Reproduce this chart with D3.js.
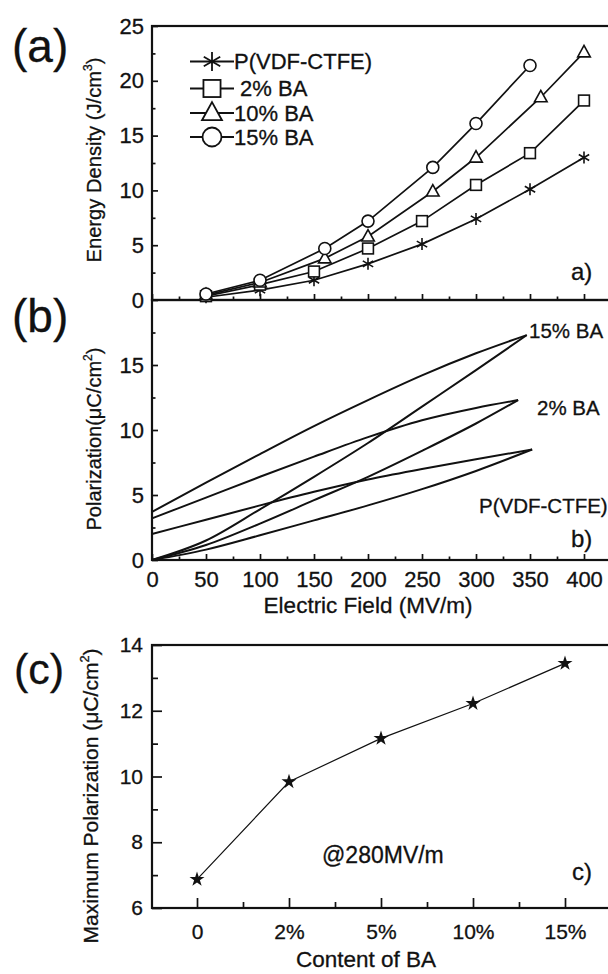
<!DOCTYPE html>
<html>
<head>
<meta charset="utf-8">
<script src="https://cdn.jsdelivr.net/npm/d3@7"></script>
<style>
  html, body { margin: 0; padding: 0; background: #fff; }
  svg { display: block; font-family: "Liberation Sans", Arial, sans-serif; }
  text { fill: #111; stroke: #111; stroke-width: 0.3px; }
</style>
</head>
<body>
<svg id="fig" width="608" height="974"></svg>
<script>
// ---------- (a) energy density vs. field ----------
const fieldAst = [50, 100, 150, 200, 250, 300, 350, 400];
const energyAst = [0.25, 0.9, 1.8, 3.3, 5.1, 7.4, 10.1, 13.0];
const fieldSq = [50, 100, 150, 200, 250, 300, 350, 400];
const energySq = [0.35, 1.4, 2.6, 4.7, 7.2, 10.5, 13.4, 18.2];
const fieldTri = [50, 100, 160, 200, 260, 300, 360, 400];
const energyTri = [0.45, 1.6, 3.8, 5.8, 9.9, 13.0, 18.5, 22.6];
const fieldCir = [50, 100, 160, 200, 260, 300, 350];
const energyCir = [0.55, 1.8, 4.7, 7.2, 12.1, 16.1, 21.4];
const legendLabels = ["P(VDF-CTFE)", " 2% BA", "10% BA", "15% BA"];
const energyTicks = [0, 5, 10, 15, 20, 25];
const fieldTicks = [0, 50, 100, 150, 200, 250, 300, 350, 400];

// ---------- (b) D-E loops: charge (lower) and discharge (upper) branches ----------
const loopField15 = [0, 50, 100, 150, 200, 250, 300, 347];
const loopPol15Lower = [0, 1.5, 3.9, 6.4, 9.0, 11.8, 14.6, 17.3];
const loopPol15Upper = [3.7, 5.95, 8.15, 10.3, 12.3, 14.2, 15.9, 17.3];
const loopField2 = [0, 50, 100, 150, 200, 250, 300, 339];
const loopPol2Lower = [0, 1.15, 2.8, 4.6, 6.4, 8.4, 10.5, 12.3];
const loopPol2Upper = [3.2, 4.8, 6.4, 7.95, 9.45, 10.75, 11.7, 12.3];
const loopField0 = [0, 50, 100, 150, 200, 250, 300, 352];
const loopPol0Lower = [0, 0.8, 1.9, 3.05, 4.2, 5.45, 6.85, 8.5];
const loopPol0Upper = [2.0, 3.1, 4.2, 5.25, 6.2, 7.0, 7.75, 8.5];
const loopLabels = ["15% BA", "2% BA", "P(VDF-CTFE)"];
const polTicks = [0, 5, 10, 15];

// ---------- (c) maximum polarization vs. BA content ----------
const baContent = ["0", "2%", "5%", "10%", "15%"];
const maxPol = [6.87, 9.84, 11.16, 12.22, 13.44];
const maxPolTicks = [6, 8, 10, 12, 14];

const svg = d3.select("#fig");
const zip = (xs, ys) => xs.map((x, i) => [x, ys[i]]);

// scales
const xE = d3.scaleLinear().domain([0, 430]).range([152, 616.4]);
const yA = d3.scaleLinear().domain([0, 25]).range([300, 26]);
const yB = d3.scaleLinear().domain([0, 20]).range([560, 300]);
const xC = d3.scaleLinear().domain([-0.5, 4.5]).range([151, 611]);
const yC = d3.scaleLinear().domain([6, 14]).range([908, 645]);

function styleAxis(g, size) {
  g.select(".domain").remove();
  g.selectAll(".tick line").attr("stroke", "#111").attr("stroke-width", 1.7);
  g.selectAll(".tick text").attr("font-size", size).attr("fill", "#111")
    .attr("font-family", "Liberation Sans, Arial, sans-serif");
}
function frame(x0, y0, x1, y1) {
  svg.append("rect").attr("x", x0).attr("y", y0).attr("width", x1 - x0).attr("height", y1 - y0)
    .attr("fill", "none").attr("stroke", "#111").attr("stroke-width", 2.2);
}
const range = (a, b, s) => d3.range(a, b + 1e-9, s);

// ---------- axes for (a) and (b) ----------
svg.append("g").attr("transform", "translate(0,300)")
  .call(d3.axisBottom(xE).tickValues(fieldTicks).tickSize(-6).tickSizeOuter(0).tickFormat(""))
  .call(g => styleAxis(g, 22));
svg.append("g").attr("transform", "translate(0,300)")
  .call(d3.axisBottom(xE).tickValues(range(25, 425, 50)).tickSize(-3.5).tickSizeOuter(0).tickFormat(""))
  .call(g => styleAxis(g, 22));
svg.append("g").attr("transform", "translate(152,0)")
  .call(d3.axisLeft(yA).tickValues(energyTicks).tickSize(-6).tickSizeOuter(0).tickPadding(8).tickFormat(d3.format("d")))
  .call(g => styleAxis(g, 22));
svg.append("g").attr("transform", "translate(152,0)")
  .call(d3.axisLeft(yA).tickValues(range(2.5, 22.5, 5)).tickSize(-3.5).tickSizeOuter(0).tickFormat(""))
  .call(g => styleAxis(g, 22));
svg.append("g").attr("transform", "translate(0,560)")
  .call(d3.axisBottom(xE).tickValues(fieldTicks).tickSize(-6).tickSizeOuter(0).tickPadding(11).tickFormat(d3.format("d")))
  .call(g => styleAxis(g, 22));
svg.append("g").attr("transform", "translate(0,560)")
  .call(d3.axisBottom(xE).tickValues(range(25, 425, 50)).tickSize(-3.5).tickSizeOuter(0).tickFormat(""))
  .call(g => styleAxis(g, 22));
svg.append("g").attr("transform", "translate(152,0)")
  .call(d3.axisLeft(yB).tickValues(polTicks).tickSize(-6).tickSizeOuter(0).tickPadding(8).tickFormat(d3.format("d")))
  .call(g => styleAxis(g, 22));
svg.append("g").attr("transform", "translate(152,0)")
  .call(d3.axisLeft(yB).tickValues(range(2.5, 17.5, 5)).tickSize(-3.5).tickSizeOuter(0).tickFormat(""))
  .call(g => styleAxis(g, 22));

frame(152, 26, 616.4, 300);
frame(152, 300, 616.4, 560);

// ---------- (a) series ----------
const lineA = d3.line().x(d => xE(d[0])).y(d => yA(d[1]));
const seriesA = [
  { pts: zip(fieldAst, energyAst), mark: "ast" },
  { pts: zip(fieldSq, energySq), mark: "sq" },
  { pts: zip(fieldTri, energyTri), mark: "tri" },
  { pts: zip(fieldCir, energyCir), mark: "cir" }
];

function marker(g, kind, x, y, s, sw) {
  let el;
  if (kind === "cir") {
    el = g.append("circle").attr("cx", x).attr("cy", y).attr("r", s / 2).attr("fill", "#fff");
  } else if (kind === "sq") {
    el = g.append("rect").attr("x", x - s * 0.45).attr("y", y - s * 0.45)
      .attr("width", s * 0.9).attr("height", s * 0.9).attr("fill", "#fff");
  } else if (kind === "tri") {
    const h = s * 0.95, w = s * 1.05;
    el = g.append("path").attr("d",
      `M${x},${y - h * 0.6}L${x + w / 2},${y + h * 0.4}L${x - w / 2},${y + h * 0.4}Z`).attr("fill", "#fff");
  } else {
    const r = s / 2;
    let d = "";
    [90, 30, 150].forEach(a => {
      const dx = r * Math.cos(a * Math.PI / 180), dy = r * Math.sin(a * Math.PI / 180);
      d += `M${x - dx},${y - dy}L${x + dx},${y + dy}`;
    });
    el = g.append("path").attr("d", d).attr("fill", "none");
  }
  el.attr("stroke", "#111").attr("stroke-width", sw);
}

const gA = svg.append("g");
seriesA.forEach(s => {
  gA.append("path").datum(s.pts).attr("d", lineA)
    .attr("fill", "none").attr("stroke", "#111").attr("stroke-width", 1.7);
});
seriesA.forEach(s => {
  s.pts.forEach(p => marker(gA, s.mark, xE(p[0]), yA(p[1]), 12, 1.6));
});

// legend
const legendY = [61.5, 88.5, 113, 137];
const legendMarks = ["ast", "sq", "tri", "cir"];
legendLabels.forEach((lab, i) => {
  const y = legendY[i];
  gA.append("line").attr("x1", 190).attr("x2", 234).attr("y1", y).attr("y2", y)
    .attr("stroke", "#111").attr("stroke-width", 1.8);
  marker(gA, legendMarks[i], 212, y, 19, 1.8);
  gA.append("text").attr("x", 234).attr("y", y).attr("dy", "0.36em")
    .attr("font-size", 22).style("white-space", "pre").text(lab);
});

svg.append("text").attr("x", 571).attr("y", 280).attr("font-size", 24).text("a)");

// ---------- (b) loops ----------
const lineB = d3.line().x(d => xE(d[0])).y(d => yB(d[1])).curve(d3.curveMonotoneX);
const branches = [
  zip(loopField15, loopPol15Lower), zip(loopField15, loopPol15Upper),
  zip(loopField2, loopPol2Lower), zip(loopField2, loopPol2Upper),
  zip(loopField0, loopPol0Lower), zip(loopField0, loopPol0Upper)
];
const gB = svg.append("g");
branches.forEach(b => {
  gB.append("path").datum(b).attr("d", lineB).attr("fill", "none")
    .attr("stroke", "#111").attr("stroke-width", 2);
});
const loopLabelPos = [[529, 338], [537, 415], [479, 513]];
loopLabels.forEach((t, i) => {
  svg.append("text").attr("x", loopLabelPos[i][0]).attr("y", loopLabelPos[i][1])
    .attr("font-size", 20.5).text(t);
});
svg.append("text").attr("x", 571).attr("y", 547).attr("font-size", 24).text("b)");

// ---------- (c) ----------
svg.append("g").attr("transform", "translate(0,908)")
  .call(d3.axisBottom(xC).tickValues(d3.range(baContent.length)).tickSize(-10).tickSizeOuter(0)
    .tickPadding(16).tickFormat(i => baContent[i]))
  .call(g => styleAxis(g, 21));
svg.append("g").attr("transform", "translate(0,908)")
  .call(d3.axisBottom(xC).tickValues(range(0.5, 3.5, 1)).tickSize(-6).tickSizeOuter(0).tickFormat(""))
  .call(g => styleAxis(g, 21));
svg.append("g").attr("transform", "translate(152,0)")
  .call(d3.axisLeft(yC).tickValues(maxPolTicks).tickSize(-10).tickSizeOuter(0).tickPadding(9).tickFormat(d3.format("d")))
  .call(g => styleAxis(g, 21));
svg.append("g").attr("transform", "translate(152,0)")
  .call(d3.axisLeft(yC).tickValues(range(7, 13, 2)).tickSize(-6).tickSizeOuter(0).tickFormat(""))
  .call(g => styleAxis(g, 21));
frame(152, 645, 612, 908);

const ptsC = maxPol.map((v, i) => [i, v]);
svg.append("path").datum(ptsC)
  .attr("d", d3.line().x(d => xC(d[0])).y(d => yC(d[1])))
  .attr("fill", "none").attr("stroke", "#111").attr("stroke-width", 1.2);
svg.selectAll(".star").data(ptsC).join("path")
  .attr("transform", d => `translate(${xC(d[0])},${yC(d[1])})`)
  .attr("d", d3.symbol(d3.symbolStar, 70)).attr("fill", "#111");

svg.append("text").attr("x", 322).attr("y", 863).attr("font-size", 23).text("@280MV/m");
svg.append("text").attr("x", 572).attr("y", 880).attr("font-size", 24).text("c)");

// ---------- axis titles ----------
svg.append("text").attr("x", 368).attr("y", 613).attr("text-anchor", "middle")
  .attr("font-size", 22.5).text("Electric Field (MV/m)");
svg.append("text").attr("x", 366).attr("y", 967).attr("text-anchor", "middle")
  .attr("font-size", 22.5).text("Content of BA");

function yTitle(cx, cy, size, parts, len) {
  const t = svg.append("text").attr("transform", `translate(${cx},${cy}) rotate(-90)`)
    .attr("text-anchor", "middle").attr("font-size", size);
  parts.forEach(p => {
    const ts = t.append("tspan").text(p.t);
    if (p.sup) ts.attr("font-size", size * 0.6).attr("dy", -size * 0.45);
    if (p.after) ts.attr("dy", size * 0.45);
  });
  if (len) t.attr("textLength", len).attr("lengthAdjust", "spacingAndGlyphs");
}
yTitle(101, 160, 20, [{ t: "Energy Density (J/cm" }, { t: "3", sup: true }, { t: ")", after: true }], 205);
yTitle(101, 439, 20, [{ t: "Polarization(\u03bcC/cm" }, { t: "2", sup: true }, { t: ")", after: true }], 183);
yTitle(98, 796, 20, [{ t: "Maximum Polarization (\u03bcC/cm" }, { t: "2", sup: true }, { t: ")", after: true }], 295);

// ---------- panel tags ----------
svg.append("text").attr("x", 12).attr("y", 62).attr("font-size", 46).text("(a)");
svg.append("text").attr("x", 12).attr("y", 332).attr("font-size", 46).text("(b)");
svg.append("text").attr("x", 14).attr("y", 684).attr("font-size", 43).text("(c)");
</script>
</body>
</html>
